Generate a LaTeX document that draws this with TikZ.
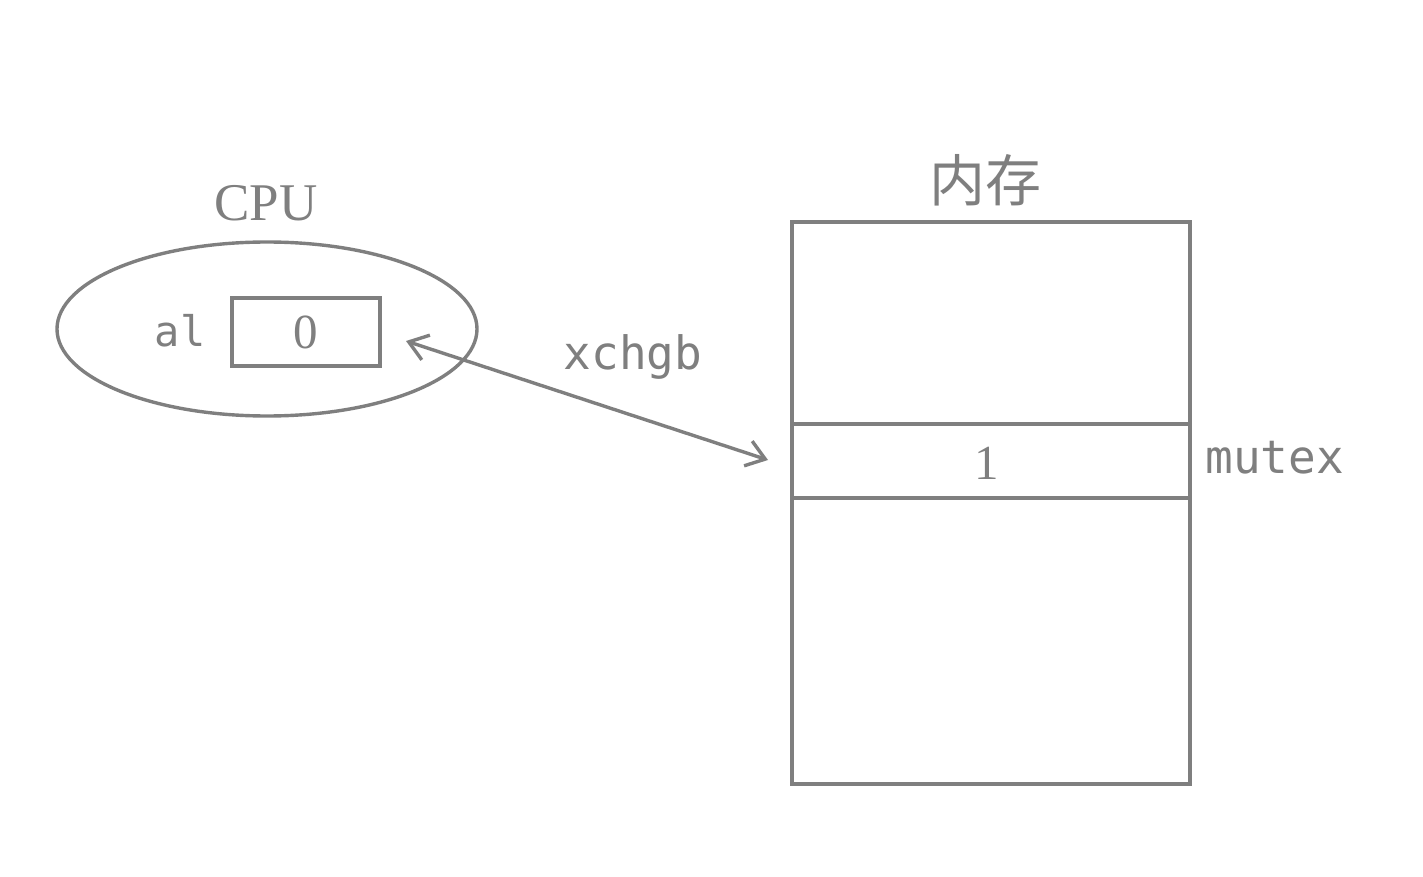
\documentclass[tikz,border=0pt]{standalone}
\usepackage{fontspec}
\setmainfont{Liberation Serif}
\setmonofont{DejaVu Sans Mono}
\newfontfamily\cjk{Noto Sans CJK SC}
\usetikzlibrary{arrows.meta,shapes.geometric}
\definecolor{ln}{HTML}{7F7F7F}
\tikzset{
  gline/.style={draw=ln, line width=1.7pt},
  lbl/.style={text=ln, inner sep=0pt, anchor=center}
}
\begin{document}
\begin{tikzpicture}[x=0.5pt, y=-0.5pt]
\useasboundingbox (0,0) rectangle (1423,877);
% CPU
\node[lbl, font=\fontsize{26.5}{30}\selectfont] (cpu) at (266,203) {CPU};
\node[gline, ellipse, draw, minimum width=210pt, minimum height=87pt, inner sep=0pt] (ell) at (267,329) {};
\node[gline, rectangle, minimum width=74pt, minimum height=34pt, inner sep=0pt] (reg) at (306,332) {};
\node[lbl, font=\fontsize{24.5}{28}\selectfont] (zero) at (306,332) {0};
\node[lbl, font=\ttfamily\fontsize{21}{24}\selectfont] (al) at (180,331) {al};
% memory
\node[lbl, font=\cjk\fontsize{28}{32}\selectfont] (mem) at (985,180) {内存};
\node[gline, rectangle, minimum width=199pt, minimum height=281pt, inner sep=0pt] (ram) at (991,503) {};
\coordinate (d1l) at (792,424); \coordinate (d1r) at (1190,424);
\coordinate (d2l) at (792,498); \coordinate (d2r) at (1190,498);
\draw[gline] (d1l) -- (d1r);
\draw[gline] (d2l) -- (d2r);
\node[lbl, font=\fontsize{24.5}{28}\selectfont] (one) at (987,463) {1};
\node[lbl, font=\ttfamily\fontsize{23}{26}\selectfont, anchor=west] (mutex) at (1205,458) {mutex};
% arrow
\coordinate (a1) at (406,341);
\coordinate (a2) at (768,460);
\draw[gline, {Straight Barb[length=9pt, width=13pt]}-{Straight Barb[length=9pt, width=13pt]}] (a1) -- (a2);
\node[lbl, font=\ttfamily\fontsize{23}{26}\selectfont] (xchg) at (633,357) {xchgb};
\end{tikzpicture}
\end{document}
